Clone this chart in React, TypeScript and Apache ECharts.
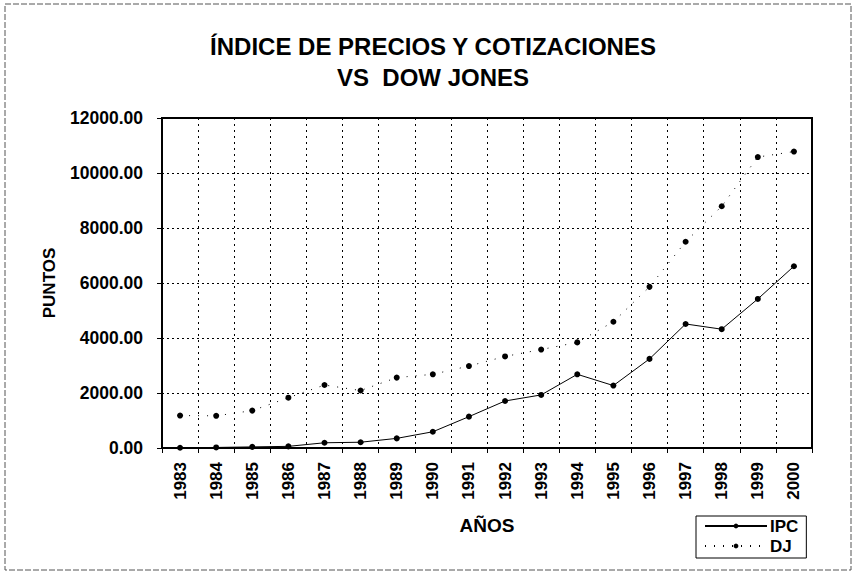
import React, { useEffect, useRef } from "react";
import * as echarts from "echarts";

const years = ["1983","1984","1985","1986","1987","1988","1989","1990","1991","1992","1993","1994","1995","1996","1997","1998","1999","2000"];
const ipc = [10, 20, 40, 60, 190, 210, 350, 590, 1140, 1710, 1930, 2680, 2270, 3240, 4510, 4320, 5420, 6610];
const dj = [1180, 1170, 1360, 1830, 2290, 2090, 2560, 2680, 2980, 3330, 3580, 3840, 4590, 5860, 7500, 8790, 10580, 10780];
const yTicks = { min: 0, max: 12000, interval: 2000 };

export default function App() {
  const ref = useRef<HTMLDivElement>(null);
  useEffect(() => {
    if (!ref.current) return;
    const chart = echarts.init(ref.current, undefined, { renderer: "svg" });
    const font = "'Liberation Sans', Arial, sans-serif";
    chart.setOption({
      animation: false,
      backgroundColor: "#fff",
      textStyle: { fontFamily: font, color: "#000" },
      title: {
        text: "ÍNDICE DE PRECIOS Y COTIZACIONES\nVS  DOW JONES",
        left: 428,
        textAlign: "center",
        top: 26,
        textStyle: { fontSize: 24, fontWeight: "bold", lineHeight: 31, color: "#000", fontFamily: font },
      },
      graphic: [
        {
          type: "rect",
          shape: { x: 5, y: 4, width: 846, height: 566 },
          style: { fill: "none", stroke: "#555", lineWidth: 1, lineDash: [6, 2] },
          silent: true,
        },
      ],
      grid: {
        left: 162,
        right: 45,
        top: 118,
        bottom: 125,
        show: true,
        borderColor: "#000",
        borderWidth: 2,
        backgroundColor: "transparent",
      },
      legend: {
        orient: "vertical",
        left: 696,
        top: 516,
        width: 117,
        itemWidth: 62,
        itemHeight: 6,
        itemGap: 2,
        padding: [1, 8, 3, 8],
        borderColor: "#000",
        borderWidth: 1,
        textStyle: { fontSize: 17, fontWeight: "bold", lineHeight: 18, color: "#000", fontFamily: font, padding: [0, 0, 0, -2] },
        data: ["IPC", "DJ"],
      },
      xAxis: {
        type: "category",
        data: years,
        boundaryGap: true,
        name: "AÑOS",
        nameLocation: "middle",
        nameGap: 68,
        nameTextStyle: { fontSize: 19, fontWeight: "bold", color: "#000", fontFamily: font },
        axisLine: { lineStyle: { color: "#000", width: 2 } },
        axisTick: { show: true, length: 5, lineStyle: { color: "#000" } },
        axisLabel: { rotate: 90, fontSize: 17, fontWeight: "bold", color: "#000", margin: 14, fontFamily: font },
        splitLine: { show: true, lineStyle: { color: "#000", type: [2, 4], width: 1 } },
      },
      yAxis: {
        type: "value",
        min: yTicks.min,
        max: yTicks.max,
        interval: yTicks.interval,
        name: "PUNTOS",
        nameLocation: "middle",
        nameGap: 104,
        nameTextStyle: { fontSize: 17, fontWeight: "bold", color: "#000", fontFamily: font },
        axisLine: { show: true, lineStyle: { color: "#000", width: 2 } },
        axisTick: { show: true, length: 5, lineStyle: { color: "#000" } },
        axisLabel: { fontSize: 17.5, fontWeight: "bold", color: "#000", margin: 19, fontFamily: font, formatter: (v: number) => v.toFixed(2) },
        splitLine: { show: true, lineStyle: { color: "#000", type: [2, 3], width: 1 } },
      },
      series: [
        {
          name: "IPC",
          type: "line",
          data: ipc,
          symbol: "circle",
          symbolSize: 6,
          itemStyle: { color: "#000" },
          lineStyle: { color: "#000", width: 1 },
        },
        {
          name: "DJ",
          type: "line",
          data: dj,
          symbol: "circle",
          symbolSize: 6,
          itemStyle: { color: "#000" },
          lineStyle: { color: "#000", width: 1, type: [1, 8] },
        },
      ],
    });
    return () => chart.dispose();
  }, []);
  return <div ref={ref} style={{ width: 857, height: 573, position: "absolute", left: 0, top: 0 }} />;
}
